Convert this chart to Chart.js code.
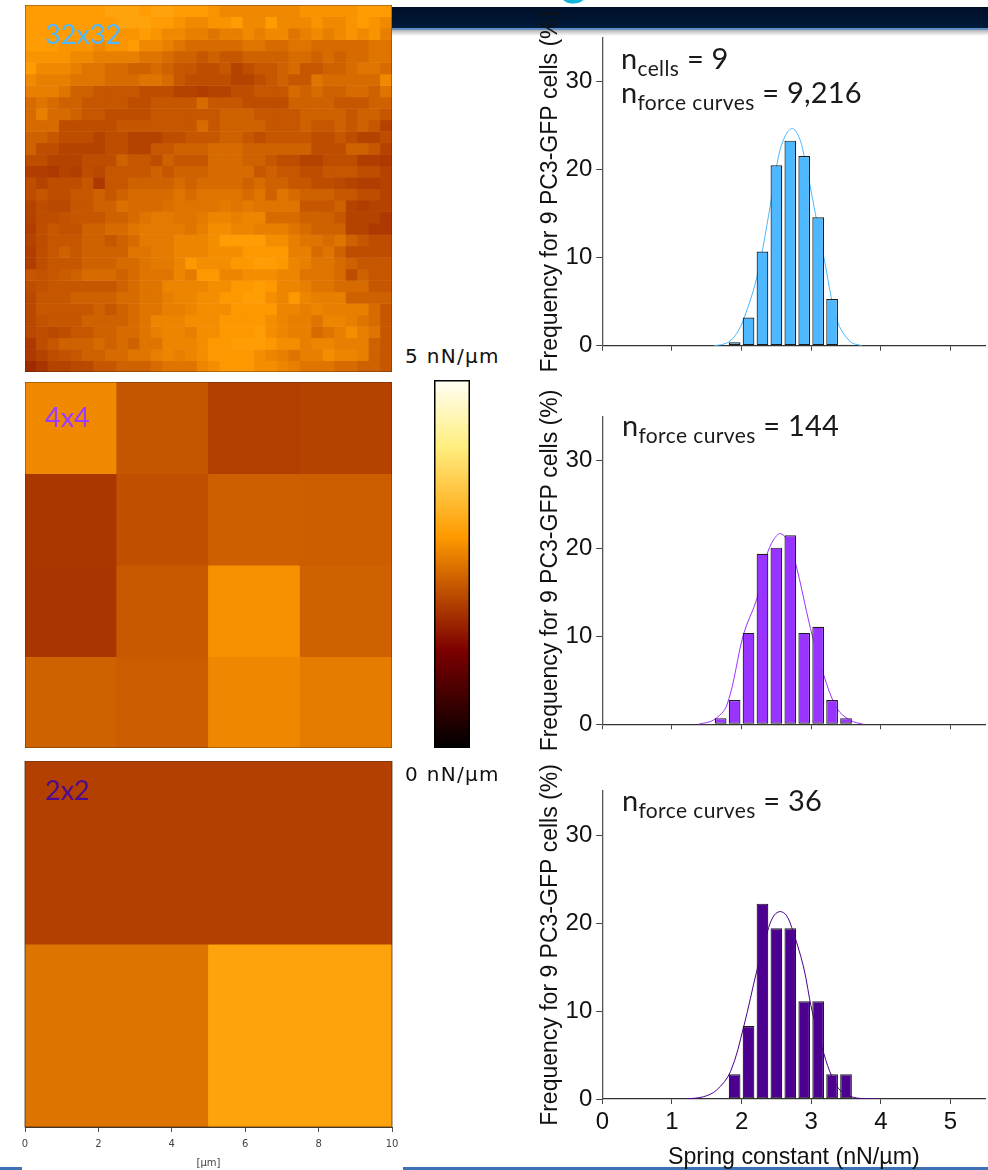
<!DOCTYPE html>
<html><head><meta charset="utf-8">
<script src="https://cdn.jsdelivr.net/npm/chart.js@4/dist/chart.umd.js"></script>
<style>
html,body{margin:0;padding:0;background:#fff}
#page{position:relative;width:988px;height:1170px;overflow:hidden;background:#fff}
canvas{position:absolute;display:block}
.t{position:absolute;white-space:nowrap;z-index:5}
.note{font-family:Lato,sans-serif;font-size:29px;color:#1a1a1a;line-height:1;letter-spacing:.2px}
.note sub{font-size:21px;vertical-align:baseline;position:relative;top:7px;letter-spacing:.4px}
.cb{font-family:"DejaVu Sans",sans-serif;font-size:20px;letter-spacing:1.3px;color:#111;line-height:1}
.hl{font-family:Lato,sans-serif;font-size:27px}
#banner{position:absolute;left:392px;top:7px;width:596px;height:21px;background:linear-gradient(#000f28,#001a3a)}
#bline{position:absolute;left:392px;top:28px;width:596px;height:2px;background:#5f8fc4}
#bshade{position:absolute;left:392px;top:30px;width:596px;height:6px;background:linear-gradient(#b4b4b4,#fff)}
.foot{position:absolute;top:1167px;height:3px;background:#3f72b4}
#glyph{position:absolute;left:561px;top:-47px;font-family:Lato,sans-serif;font-weight:700;font-size:48px;line-height:1;color:#12b4d8}
</style></head><body><div id="page">
<div id="banner"></div><div id="bline"></div><div id="bshade"></div>
<div class="foot" style="left:0;width:22px"></div><div class="foot" style="left:403px;right:0"></div>
<div id="glyph">g</div>
</div>
<script>
const colorStops=[[0,'#000000'],[0.265,'#7c0000'],[0.575,'#ff9a00'],[0.82,'#ffee80'],[1,'#fffff5']];
const rangeMax=5;
const heat32=[
[2.9,2.9,2.9,2.9,2.9,2.9,2.9,3.0,3.0,3.0,2.9,3.0,3.0,2.9,2.9,2.9,2.8,2.7,2.7,2.7,2.7,2.7,2.7,2.7,2.8,2.8,2.8,2.8,2.8,2.9,2.9,2.9],
[2.9,2.9,2.9,2.9,2.9,2.9,2.9,2.9,3.0,3.0,3.0,2.9,2.9,2.8,2.7,2.7,2.8,2.8,2.9,2.7,2.7,2.9,2.7,2.7,2.7,2.8,2.7,2.7,2.8,2.9,2.8,2.7],
[2.9,2.9,2.9,2.9,2.9,2.9,2.9,2.9,2.8,2.8,2.9,2.8,2.7,2.7,2.6,2.6,2.5,2.6,2.6,2.7,2.6,2.7,2.7,2.5,2.6,2.7,2.6,2.7,2.8,2.7,2.8,2.6],
[2.9,2.9,2.9,2.8,2.8,2.8,2.7,2.8,2.8,2.9,2.7,2.7,2.6,2.5,2.4,2.4,2.4,2.4,2.4,2.5,2.5,2.4,2.4,2.5,2.5,2.4,2.4,2.4,2.4,2.4,2.5,2.5],
[2.8,2.8,2.8,2.8,2.7,2.7,2.6,2.6,2.6,2.6,2.5,2.5,2.4,2.3,2.3,2.2,2.3,2.2,2.2,2.3,2.3,2.3,2.3,2.4,2.4,2.3,2.4,2.3,2.4,2.4,2.5,2.5],
[2.9,2.7,2.7,2.7,2.6,2.5,2.5,2.4,2.4,2.3,2.3,2.4,2.3,2.2,2.2,2.1,2.1,2.2,2.0,2.1,2.2,2.2,2.3,2.4,2.2,2.2,2.3,2.3,2.4,2.5,2.5,2.4],
[2.7,2.6,2.6,2.6,2.5,2.5,2.5,2.4,2.4,2.4,2.5,2.5,2.4,2.2,2.1,2.1,2.1,2.1,2.0,2.0,2.1,2.2,2.3,2.2,2.2,2.5,2.4,2.4,2.4,2.4,2.4,2.7],
[2.6,2.6,2.6,2.5,2.3,2.3,2.2,2.2,2.2,2.2,2.1,2.1,2.1,2.0,2.0,1.95,2.0,2.0,2.1,2.1,2.2,2.2,2.2,2.4,2.3,2.4,2.3,2.3,2.4,2.4,2.3,2.5],
[2.4,2.5,2.4,2.3,2.3,2.2,2.2,2.2,2.2,2.1,2.1,2.2,2.2,2.2,2.2,2.4,2.2,2.2,2.2,2.1,2.1,2.1,2.1,2.3,2.3,2.3,2.3,2.2,2.2,2.2,2.3,2.3],
[2.4,2.6,2.4,2.4,2.3,2.2,2.2,2.1,2.1,2.1,2.1,2.2,2.2,2.2,2.2,2.2,2.2,2.3,2.3,2.3,2.2,2.2,2.2,2.2,2.3,2.3,2.3,2.3,2.2,2.3,2.3,2.2],
[2.4,2.4,2.4,2.1,2.1,2.1,2.1,2.1,2.2,2.2,2.2,2.2,2.2,2.2,2.2,2.4,2.2,2.3,2.3,2.3,2.3,2.2,2.2,2.2,2.3,2.2,2.2,2.3,2.2,2.3,2.2,2.0],
[2.3,2.3,2.2,2.1,2.1,2.1,2.0,2.1,2.1,2.0,2.0,2.0,2.1,2.1,2.2,2.2,2.2,2.3,2.3,2.2,2.1,2.2,2.2,2.2,2.2,2.1,2.1,2.2,2.1,2.0,2.0,2.1],
[2.3,2.1,2.1,2.0,2.0,2.0,2.0,2.1,2.1,2.0,2.0,2.2,2.2,2.3,2.3,2.3,2.4,2.4,2.4,2.3,2.3,2.3,2.3,2.3,2.3,2.1,2.1,2.1,2.3,2.3,2.2,2.0],
[2.1,2.1,2.0,2.0,2.0,2.1,2.1,2.1,2.3,2.2,2.2,2.1,2.3,2.2,2.2,2.2,2.4,2.4,2.4,2.3,2.3,2.2,2.1,2.1,2.0,2.0,2.1,2.1,2.1,1.95,1.95,1.9],
[1.95,1.95,1.9,2.0,1.95,2.1,2.05,2.2,2.2,2.2,2.2,2.3,2.2,2.3,2.3,2.3,2.4,2.4,2.4,2.4,2.2,2.3,2.2,2.2,2.1,2.1,2.2,2.2,2.2,2.1,2.1,2.0],
[2.1,2.0,2.1,2.1,2.1,2.2,1.9,2.2,2.2,2.3,2.3,2.3,2.3,2.4,2.3,2.4,2.4,2.4,2.4,2.3,2.4,2.3,2.3,2.2,2.2,2.1,2.1,2.05,2.0,1.95,1.95,2.0],
[2.1,2.2,2.1,2.1,2.2,2.2,2.3,2.2,2.3,2.4,2.4,2.4,2.4,2.5,2.4,2.5,2.5,2.5,2.5,2.4,2.5,2.3,2.5,2.4,2.3,2.3,2.3,2.2,2.2,2.1,2.1,2.0],
[2.0,2.1,2.05,2.05,2.2,2.2,2.3,2.3,2.45,2.4,2.4,2.4,2.45,2.5,2.5,2.5,2.5,2.55,2.5,2.55,2.5,2.5,2.5,2.5,2.2,2.2,2.2,2.3,2.0,1.95,2.0,2.0],
[2.0,2.1,2.1,2.15,2.2,2.2,2.2,2.3,2.3,2.4,2.5,2.55,2.55,2.5,2.5,2.55,2.66,2.66,2.6,2.66,2.66,2.4,2.4,2.4,2.3,2.3,2.3,2.2,2.0,2.0,2.0,1.9],
[1.95,2.1,2.2,2.15,2.15,2.3,2.3,2.4,2.4,2.5,2.55,2.55,2.55,2.55,2.5,2.6,2.75,2.75,2.66,2.66,2.6,2.6,2.6,2.5,2.4,2.3,2.3,2.3,2.0,2.0,1.9,1.9],
[2.0,2.1,2.2,2.2,2.2,2.3,2.3,2.2,2.3,2.4,2.55,2.55,2.55,2.66,2.66,2.66,2.75,2.92,2.92,2.92,2.92,2.75,2.75,2.6,2.5,2.5,2.4,2.5,2.3,2.2,2.1,2.1],
[1.95,2.1,2.2,2.3,2.2,2.3,2.3,2.3,2.3,2.5,2.5,2.55,2.55,2.66,2.66,2.66,2.75,2.75,2.75,2.85,2.85,2.85,2.85,2.6,2.6,2.4,2.5,2.3,2.1,2.1,2.1,2.1],
[1.95,2.1,2.2,2.2,2.2,2.3,2.3,2.3,2.4,2.4,2.5,2.55,2.55,2.66,2.85,2.75,2.75,2.75,2.85,2.85,2.92,2.92,2.85,2.66,2.6,2.5,2.5,2.4,2.3,2.2,2.2,2.2],
[2.2,2.15,2.2,2.25,2.3,2.4,2.4,2.4,2.3,2.4,2.5,2.5,2.5,2.66,2.55,2.85,2.85,2.66,2.66,2.75,2.75,2.75,2.66,2.66,2.5,2.5,2.5,2.4,2.1,2.3,2.2,2.2],
[2.1,2.15,2.2,2.2,2.2,2.2,2.2,2.2,2.3,2.4,2.5,2.5,2.66,2.66,2.66,2.66,2.75,2.75,2.85,2.85,2.92,2.85,2.66,2.66,2.6,2.5,2.5,2.4,2.4,2.4,2.2,2.2],
[2.05,2.2,2.2,2.2,2.3,2.3,2.3,2.3,2.4,2.4,2.5,2.5,2.6,2.66,2.66,2.75,2.75,2.85,2.85,2.92,2.92,2.75,2.66,2.85,2.66,2.6,2.6,2.6,2.3,2.3,2.3,2.3],
[2.05,2.2,2.2,2.2,2.2,2.2,2.3,2.2,2.3,2.4,2.5,2.5,2.6,2.6,2.66,2.75,2.75,2.75,2.85,2.85,2.85,2.85,2.66,2.66,2.6,2.66,2.6,2.6,2.6,2.6,2.4,2.2],
[2.05,2.15,2.2,2.2,2.2,2.3,2.3,2.3,2.3,2.4,2.5,2.66,2.66,2.66,2.75,2.75,2.75,2.85,2.85,2.85,2.85,2.75,2.66,2.6,2.6,2.5,2.66,2.66,2.6,2.5,2.4,2.2],
[2.05,2.1,2.05,2.1,2.2,2.2,2.3,2.3,2.4,2.4,2.5,2.6,2.66,2.66,2.6,2.75,2.75,2.85,2.85,2.85,2.92,2.75,2.66,2.6,2.6,2.4,2.5,2.6,2.75,2.6,2.5,2.2],
[1.9,2.1,2.2,2.3,2.3,2.3,2.4,2.3,2.4,2.3,2.5,2.5,2.66,2.66,2.66,2.75,2.85,2.85,2.92,2.92,2.92,2.85,2.75,2.75,2.6,2.66,2.66,2.6,2.6,2.6,2.3,2.2],
[1.9,2.0,2.1,2.15,2.2,2.3,2.3,2.4,2.4,2.5,2.5,2.6,2.66,2.6,2.66,2.75,2.85,2.85,2.85,2.85,2.75,2.66,2.6,2.5,2.6,2.6,2.75,2.66,2.66,2.6,2.3,2.2],
[1.75,1.85,2.0,2.0,2.05,2.05,2.2,2.2,2.3,2.3,2.3,2.4,2.5,2.5,2.5,2.66,2.75,2.85,2.85,2.85,2.75,2.75,2.66,2.6,2.5,2.5,2.5,2.4,2.4,2.3,2.3,2.2]
];
const heat4=[
[2.70,2.19,1.96,2.00],
[1.87,2.13,2.28,2.27],
[1.86,2.22,2.78,2.31],
[2.31,2.26,2.69,2.57]
];
const heat2=[
[1.97,1.97],
[2.49,3.00]
];
const heatTicks=[0,2,4,6,8,10];
const binCenters=[1.7,1.9,2.1,2.3,2.5,2.7,2.9,3.1,3.3,3.5];
const freq32=[0.05,0.4,3.2,10.7,20.5,23.3,21.55,14.6,5.3,0.1];
const freq4=[0.7,2.77,10.4,19.4,20.1,21.5,10.4,11.1,2.77,0.7];
const freq2=[0,2.8,8.3,22.2,19.4,19.4,11.1,11.1,2.8,2.8];
const curve32X=[1.6,1.7,1.82,1.93,2.03,2.22,2.41,2.53,2.63,2.73,2.82,2.89,3.06,3.18,3.37,3.56,3.73];
const curve32Y=[0,0.1,0.45,1.4,3.0,7.8,15.8,21.5,23.9,24.7,23.8,21.9,15,10.1,2.9,0.45,0];
const curve4X=[1.38,1.6,1.79,2.03,2.22,2.36,2.46,2.555,2.65,2.77,2.99,3.18,3.37,3.56,3.75];
const curve4Y=[0,0.5,2.2,10.3,14.3,19.2,21.0,21.7,21.0,18.5,10.9,5.6,1.8,0.45,0];
const curve2X=[1.21,1.45,1.64,1.84,2.03,2.22,2.39,2.47,2.555,2.64,2.72,2.89,3.01,3.18,3.3,3.44,3.66,3.95];
const curve2Y=[0,0.25,1.0,3.1,8.2,14.6,19.5,20.9,21.3,20.9,19.5,15,10.1,5.2,2.5,0.8,0.1,0];
const xTicks=[0,1,2,3,4,5];
const yTicks=[0,10,20,30];
const valueAxisTitle='Frequency for 9 PC3-GFP cells (%)';
const springTitle='Spring constant (nN/µm)';

const page=document.getElementById('page');
function mk(l,t,w,h,z){const c=document.createElement('canvas');c.width=w;c.height=h;c.style.left=l+'px';c.style.top=t+'px';c.style.width=w+'px';c.style.height=h+'px';c.style.zIndex=z||2;page.appendChild(c);return c;}
function hex(s){return [1,3,5].map(i=>parseInt(s.substr(i,2),16));}
function colorOf(v){const f=Math.max(0,Math.min(1,v/rangeMax));let i=0;while(i<colorStops.length-2&&f>colorStops[i+1][0])i++;
 const a=colorStops[i],b=colorStops[i+1],t=(f-a[0])/(b[0]-a[0]),A=hex(a[1]),B=hex(b[1]);
 return 'rgb('+A.map((x,k)=>Math.round(x+(B[k]-x)*t)).join(',')+')';}
const frame={id:'frame',afterDraw(ch,a,o){const c=ch.ctx,r=ch.chartArea;c.save();c.strokeStyle=o.color;c.lineWidth=o.width;c.strokeRect(r.left,r.top,r.right-r.left,r.bottom-r.top);c.restore();}};

function heat(m,cfg){
 const n=m.length,cw=cfg.w/n,ch=cfg.h/n,ox=cfg.axis?24:0,cv=mk(cfg.x-ox,cfg.y,cfg.w+ox*2,cfg.h+(cfg.axis?43:0));
 cv.style.filter='blur(0.5px)';
 const cats=m[0].map((_,i)=>i);
 const datasets=m.map((row,r)=>({data:row.map(()=>[r,r+1+0.5/ch]),backgroundColor:row.map(colorOf),borderWidth:0,grouped:false,
   barPercentage:1+0.8/cw,categoryPercentage:1}));
 const scales={x:{type:'category',display:false,offset:true},
  y:{type:'linear',display:false,min:0,max:n,reverse:true}};
 if(cfg.axis){scales.x2={type:'linear',position:'bottom',axis:'x',offset:false,min:0,max:10,
   afterBuildTicks:s=>{s.ticks=heatTicks.map(v=>({value:v}));},
   afterFit:s=>{s.height=43;},
   border:{display:true,color:'#444',width:1},
   grid:{offset:false,drawOnChartArea:false,drawTicks:true,tickLength:5,color:'#555'},
   ticks:{autoSkip:false,maxRotation:0,color:'#444',font:{family:'DejaVu Sans',size:10},padding:6},
   title:{display:true,text:'[µm]',color:'#444',font:{family:'DejaVu Sans',size:10},padding:{top:0,bottom:1}}};}
 new Chart(cv,{type:'bar',data:{labels:cats,datasets},plugins:[frame],options:{responsive:false,animation:false,
   layout:{padding:{left:ox,right:ox,top:0,bottom:0}},scales,
   plugins:{legend:{display:false},tooltip:{enabled:false},frame:{color:'rgba(70,40,10,.75)',width:1}}}});
}
heat(heat32,{x:25.3,y:5.3,w:367,h:367});
heat(heat4,{x:25.3,y:382.3,w:367,h:366});
heat(heat2,{x:25.3,y:761,w:367,h:366,axis:true});

// colour bar
(function(){
 const cv=mk(434,380,36,368);
 new Chart(cv,{type:'bar',data:{labels:[''],datasets:[{data:[[0,rangeMax]],borderWidth:0,barPercentage:1,categoryPercentage:1,
   backgroundColor(ctx){const a=ctx.chart.chartArea;if(!a)return '#000';const g=ctx.chart.ctx.createLinearGradient(0,a.bottom,0,a.top);
     colorStops.forEach(s=>g.addColorStop(s[0],s[1]));return g;}}]},
   plugins:[frame],options:{responsive:false,animation:false,layout:{padding:0},
   scales:{x:{display:false},y:{display:false,min:0,max:rangeMax}},
   plugins:{legend:{display:false},tooltip:{enabled:false},frame:{color:'#000',width:3}}}});
})();

function hist(cfg){
 const cv=mk(530,cfg.top,458,cfg.h,3);
 const axisH=cfg.top+cfg.h-cfg.bottom;
 new Chart(cv,{data:{datasets:[
   {type:'bar',order:1,data:binCenters.map((x,i)=>({x,y:cfg.freq[i]})),backgroundColor:cfg.color,borderColor:'#1c1c1c',borderWidth:1.2,borderSkipped:false,barPercentage:0.84,categoryPercentage:1},
   {type:'line',order:2,data:cfg.cx.map((x,i)=>({x,y:cfg.cy[i]})),borderColor:cfg.color,borderWidth:1,pointRadius:0,tension:0.35,fill:false}
 ]},options:{responsive:false,animation:false,
   layout:{padding:{left:7,right:2.7,top:cfg.areaTop-cfg.top,bottom:0}},
   scales:{
    x:{type:'linear',offset:false,min:0,max:5.5,
      afterBuildTicks:s=>{s.ticks=xTicks.map(v=>({value:v}));},afterFit:s=>{s.height=axisH;},
      border:{display:true,color:'#333',width:1.3},
      grid:{offset:false,drawOnChartArea:false,drawTicks:true,tickLength:5,color:'#444',lineWidth:1},
      ticks:{display:cfg.labels,autoSkip:false,maxRotation:0,color:'#111',font:{family:'Liberation Sans',size:24},padding:4},
      title:{display:cfg.labels,text:springTitle,color:'#111',font:{family:'Liberation Sans',size:23.2},padding:{top:0,bottom:0}}},
    y:{type:'linear',min:0,max:35,
      afterBuildTicks:s=>{s.ticks=yTicks.map(v=>({value:v}));},afterFit:s=>{s.width=65.3;},
      border:{display:true,color:'#555',width:1.3},
      grid:{drawOnChartArea:false,drawTicks:true,tickLength:6,color:'#444',lineWidth:1},
      ticks:{autoSkip:false,color:'#111',font:{family:'Liberation Sans',size:24},padding:4},
      title:{display:true,text:valueAxisTitle,color:'#111',font:{family:'Liberation Sans',size:23},padding:{top:0,bottom:0}}}
   },
   plugins:{legend:{display:false},tooltip:{enabled:false}}}});
}
hist({top:0,h:380,areaTop:37.7,bottom:345.7,freq:freq32,cx:curve32X,cy:curve32Y,color:'#4db8ff',labels:false});
hist({top:385,h:380,areaTop:416.7,bottom:724.3,freq:freq4,cx:curve4X,cy:curve4Y,color:'#9933ff',labels:false});
hist({top:755,h:417,areaTop:791,bottom:1099,freq:freq2,cx:curve2X,cy:curve2Y,color:'#4b0090',labels:true});

function text(cls,l,t,html,color){const d=document.createElement('div');d.className='t '+cls;d.style.left=l+'px';d.style.top=t+'px';d.innerHTML=html;if(color)d.style.color=color;page.appendChild(d);}
text('note',621,43,'n<sub>cells</sub> = 9');
text('note',621,77,'n<sub>force curves</sub> = 9,216');
text('note',622,410,'n<sub>force curves</sub> = 144');
text('note',622,785,'n<sub>force curves</sub> = 36');
text('hl',45,17,'32x32','#4db8ff');
text('hl',45,400,'4x4','#9a3cff');
text('hl',45,773,'2x2','#4b0a90');
text('cb',405,346,'5 nN/µm');
text('cb',405,764,'0 nN/µm');
</script></body></html>
